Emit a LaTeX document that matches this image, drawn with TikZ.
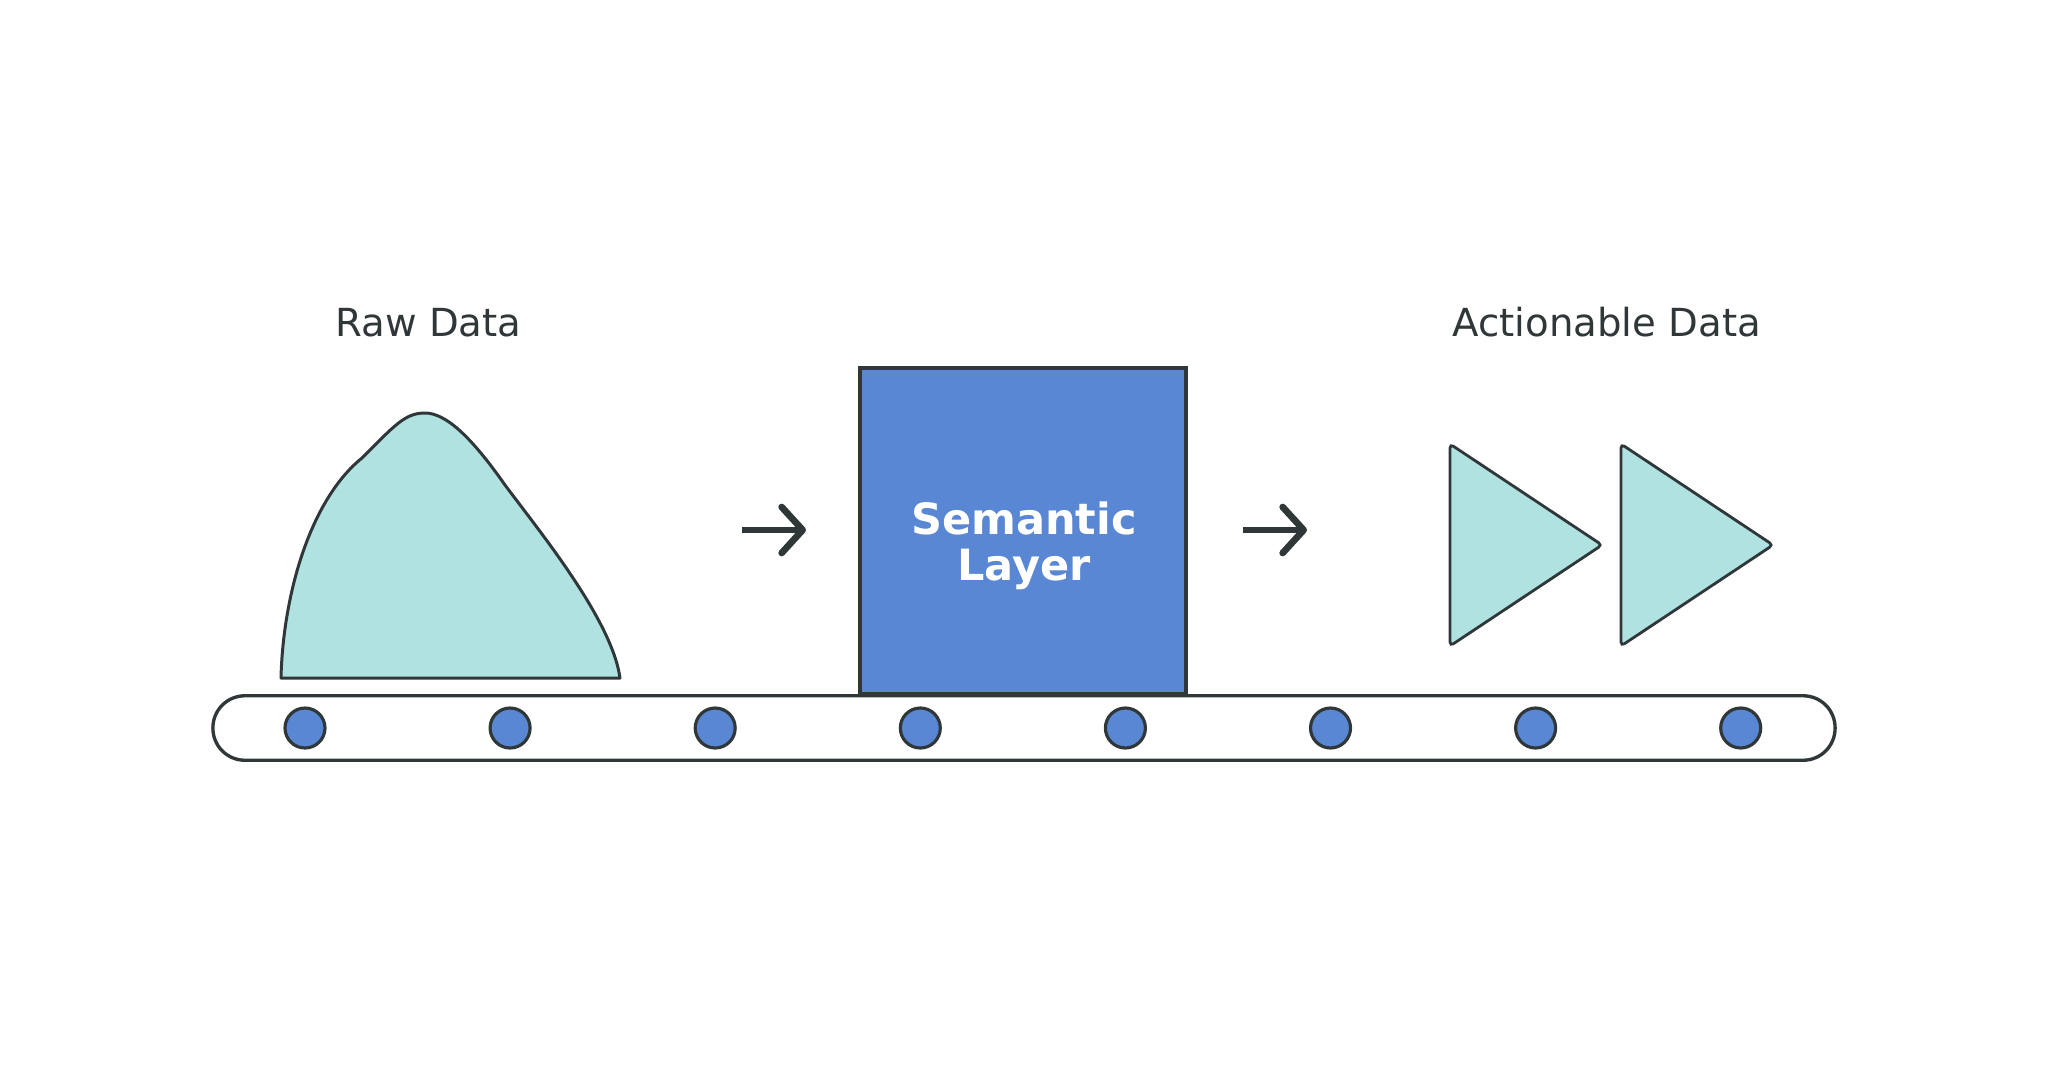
\documentclass[tikz,border=0pt]{standalone}
\usepackage{fontspec}
\setmainfont{DejaVu Sans}
\usepackage{tikz}
\usetikzlibrary{arrows.meta, positioning, calc}
\definecolor{ink}{HTML}{2F3739}
\definecolor{datateal}{HTML}{B0E2E1}
\definecolor{layerblue}{HTML}{5A87D3}
\tikzstyle{heading} = [text=ink, inner sep=0pt, font=\fontsize{22}{26}\selectfont]
\tikzstyle{layer} = [rectangle, minimum width=6.52cm, minimum height=6.52cm, inner sep=0pt, draw=ink, line width=2.2pt, fill=layerblue]
\tikzstyle{layertext} = [align=center, inner sep=0pt, text=white, font=\bfseries\fontsize{24.5}{26}\selectfont]
\tikzstyle{belt} = [rectangle, rounded corners=0.64cm, minimum width=32.45cm, minimum height=1.29cm, draw=ink, line width=1.9pt]
\tikzstyle{roller} = [circle, minimum size=0.8cm, inner sep=0pt, draw=ink, line width=1.8pt, fill=layerblue]
\tikzstyle{blob} = [draw=ink, line width=1.7pt, fill=datateal, line join=round]
\tikzstyle{play} = [draw=ink, line width=1.6pt, fill=datateal, rounded corners=0.08cm]
\tikzstyle{arrow} = [ink, line width=3.8pt, -{Straight Barb[length=0.42cm, width=0.92cm, line cap=round, line join=round]}]

\begin{document}
\begin{tikzpicture}[x=0.02cm, y=-0.02cm]
\useasboundingbox (0,0) rectangle (2048,1072);

% conveyor belt
\node (belt) [belt] at (1024,728) {};
\foreach \i in {1,...,8}
  \node (r\i) [roller] at ({305+205.1*(\i-1)},728) {};

% semantic layer sitting on the belt
\node (layer) [layer] at (1023,531) {};
\node (layername) [layertext] at ($(layer.center)+(1,15)$) {Semantic\\Layer};

% headings
\node (raw) [heading, anchor=base] at (428.5,336.7) {Raw Data};
\node (act) [heading, anchor=base] at (1606.7,336.7) {Actionable Data};

% raw data heap
\draw [blob] (281,678) .. controls (283,595) and (310,500) .. (362,458)
  .. controls (395,425) and (405,413) .. (425,413)
  .. controls (445,413) and (470,435) .. (505,485)
  .. controls (540,532) and (612,620) .. (620,678) -- cycle;

% actionable data
\foreach \dx in {0,171}
  \draw [play] ({1450+\dx},444) -- ({1602+\dx},545) -- ({1450+\dx},646) -- cycle;

% flow arrows
\coordinate (in1) at (742,530);
\coordinate (out1) at (806,530);
\coordinate (in2) at (1243,530);
\coordinate (out2) at (1307,530);
\draw [arrow] (in1) -- (out1);
\draw [arrow] (in2) -- (out2);
\end{tikzpicture}
\end{document}
